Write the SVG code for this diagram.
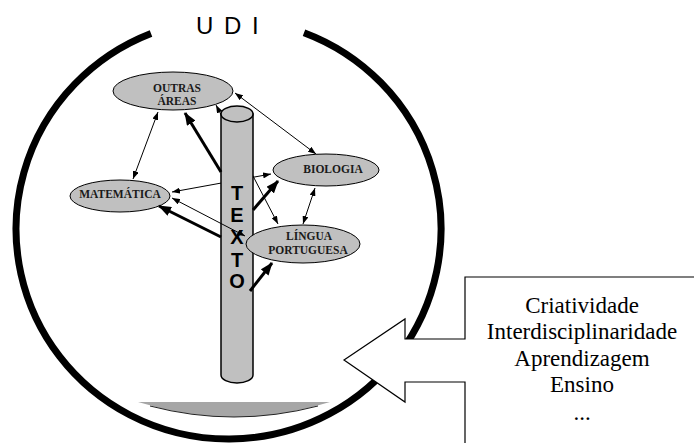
<svg xmlns="http://www.w3.org/2000/svg" width="694" height="443" viewBox="0 0 694 443">
<style>
.node ellipse{fill:#c0c0c0;stroke:#000;stroke-width:1}
.lbl{font-family:"Liberation Serif","Times New Roman",serif;font-weight:bold;font-size:11.5px;text-anchor:middle;fill:#1a1a1a}
.thin{stroke:#000;stroke-width:1;fill:none;marker-start:url(#hs);marker-end:url(#he)}
.thick{stroke:#000;stroke-width:3;fill:none;marker-end:url(#bh)}
.box{font-family:"Liberation Serif","Times New Roman",serif;font-size:23px;text-anchor:middle;fill:#000}
.txt{font-family:"Liberation Sans",Arial,sans-serif;font-weight:bold;font-size:20px;text-anchor:middle;fill:#000}
</style>
<defs>
<marker id="he" markerUnits="userSpaceOnUse" markerWidth="8" markerHeight="6" refX="8" refY="3" orient="auto"><path d="M0,0 L8,3 L0,6 Z" fill="#000"/></marker>
<marker id="hs" markerUnits="userSpaceOnUse" markerWidth="8" markerHeight="6" refX="0" refY="3" orient="auto"><path d="M8,0 L0,3 L8,6 Z" fill="#000"/></marker>
<marker id="bh" markerUnits="userSpaceOnUse" markerWidth="13" markerHeight="10" refX="12" refY="5" orient="auto"><path d="M0,0 L13,5 L0,10 Z" fill="#000"/></marker>
</defs>
<rect width="694" height="443" fill="#fff"/>
<g id="udi-circle">
<path d="M151,33.5 A212.5,210 0 1 0 304,32.7" fill="none" stroke="#000" stroke-width="7"/>
<text x="196" y="34" font-family="Liberation Sans, Arial, sans-serif" font-size="24" letter-spacing="2" fill="#000">U D I</text>
</g>
<g id="base">
<path d="M138,402 L330,402 Q234,432 138,402 Z" fill="#a6a6a6"/>
<path d="M150,406 Q234,428 318,406" fill="none" stroke="#222" stroke-width="1"/>
</g>
<g id="connectors-behind">
<line class="thin" x1="172" y1="192" x2="271" y2="174"/>
<line class="thin" x1="216" y1="105" x2="278" y2="224"/>
</g>
<g id="texto">
<path d="M221,114 V375 A16,8 0 0 0 253,375 V114 Z" fill="#c0c0c0" stroke="#000" stroke-width="1.5"/>
<ellipse cx="237" cy="114" rx="16" ry="8" fill="#c0c0c0" stroke="#000" stroke-width="1.5"/>
<text class="txt" x="237" y="200">T</text>
<text class="txt" x="237" y="222">E</text>
<text class="txt" x="237" y="244">X</text>
<text class="txt" x="237" y="267">T</text>
<text class="txt" x="237" y="288">O</text>
</g>
<g id="outras" class="node">
<ellipse cx="173" cy="91" rx="60" ry="19"/>
<text class="lbl" x="177" y="92">OUTRAS</text>
<text class="lbl" x="177" y="105">ÁREAS</text>
</g>
<g id="matematica" class="node">
<ellipse cx="120" cy="196" rx="50" ry="16"/>
<text class="lbl" x="120" y="198">MATEMÁTICA</text>
</g>
<g id="biologia" class="node">
<ellipse cx="326" cy="170" rx="53" ry="16"/>
<text class="lbl" x="333" y="173">BIOLOGIA</text>
</g>
<g id="lingua" class="node">
<ellipse cx="303" cy="244" rx="57" ry="19"/>
<text class="lbl" x="309" y="240">LÍNGUA</text>
<text class="lbl" x="308" y="254">PORTUGUESA</text>
</g>
<g id="connectors">
<line class="thin" x1="158" y1="112" x2="133" y2="179"/>
<line class="thin" x1="235" y1="93" x2="316" y2="154"/>
<line class="thin" x1="315" y1="188" x2="303" y2="224"/>
<line class="thin" x1="172" y1="198" x2="245" y2="236"/>
<line class="thick" x1="221" y1="172" x2="185" y2="113"/>
<line class="thick" x1="221" y1="237" x2="159" y2="206"/>
<line class="thick" x1="253" y1="210" x2="278" y2="181"/>
<line class="thick" x1="250" y1="291" x2="272" y2="263"/>
</g>
<g id="block-arrow">
<path d="M465,277 H700 V450 H465 V382 H405 V402 L344,360 L405,319 V339 H465 Z" fill="#fff" stroke="#000" stroke-width="1.2"/>
<text class="box" x="582" y="313">Criatividade</text>
<text class="box" x="582" y="339">Interdisciplinaridade</text>
<text class="box" x="582" y="366">Aprendizagem</text>
<text class="box" x="582" y="392">Ensino</text>
<text class="box" x="582" y="420">...</text>
</g>
</svg>
